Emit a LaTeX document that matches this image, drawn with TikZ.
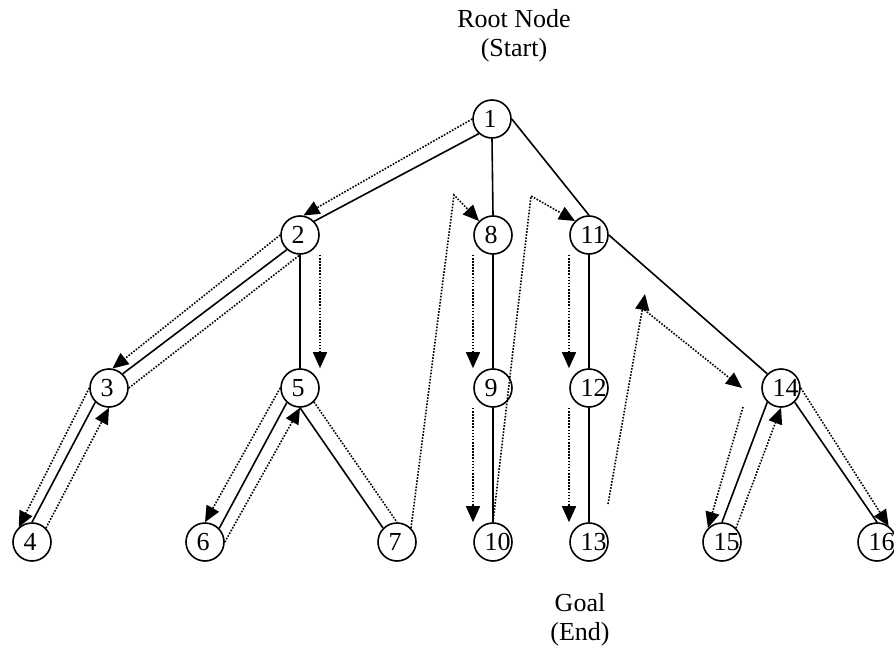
\documentclass[tikz,border=0pt]{standalone}
\usepackage{fontspec}
\setmainfont{Liberation Serif}
\usetikzlibrary{positioning}
\usetikzlibrary{calc}
\usetikzlibrary{arrows.meta}

\tikzset{
  state/.style={circle, draw, line width=1.6pt, minimum size=38pt, inner sep=0pt,
    text width=17pt, align=left, font=\fontsize{26}{29}\selectfont},
  note/.style={align=center, font=\fontsize{26}{29}\selectfont},
  branch/.style={line width=1.6pt},
  trace/.style={line width=1.6pt, dash pattern=on 1.6pt off 1.5pt},
  walk/.style={trace, -{Triangle[length=16pt,width=14pt]}},
}

\begin{document}
\begin{tikzpicture}[x=1pt, y=-1pt]
\useasboundingbox (0,0) rectangle (894,650);

\pgfmathsetmacro{\OFF}{20}

\node [note] (start) at (514,36) {Root Node\\(Start)};
\node [note] (goal) at (580,620) {Goal\\(End)};

% the tree, row by row
\node [state] (n1) at (492,119) {1};

\node [state] (n2) at (300,235) {2};
\node [state] (n8) at (493,235) {8};
\node [state] (n11) at (589,235) {11};

\node [state] (n3) at (109,388) {3};
\node [state] (n5) at (300,388) {5};
\node [state] (n9) at (493,388) {9};
\node [state] (n12) at (589,388) {12};
\node [state] (n14) at (781,388) {14};

\node [state] (n4) at (32,542) {4};
\node [state] (n6) at (205,542) {6};
\node [state] (n7) at (397,542) {7};
\node [state] (n10) at (493,542) {10};
\node [state] (n13) at (589,542) {13};
\node [state] (n15) at (722,542) {15};
\node [state] (n16) at (877,542) {16};

% branches
\draw [branch] (n1.228) -- (n2.44);
\draw [branch] (n1.south) -- (n8.north);
\draw [branch] (n1.east) -- (n11.north);
\draw [branch] (n2.228) -- (n3.46);
\draw [branch] (n2.south) -- (n5.north);
\draw [branch] (n3.226) -- (n4.north);
\draw [branch] (n5.228) -- (n6.44);
\draw [branch] (n5.south) -- (n7.135);
\draw [branch] (n8.south) -- (n9.north);
\draw [branch] (n9.south) -- (n10.north);
\draw [branch] (n11.south) -- (n12.north);
\draw [branch] (n12.south) -- (n13.north);
\draw [branch] (n11.east) -- (n14.134);
\draw [branch] (n14.226) -- (n15.north);
\draw [branch] (n14.314) -- (n16.north);

% order of the search
\draw [walk] (n1.west) -- (n2.80);
\draw [walk] (n2.west) -- (n3.80);
\draw [walk] (n3.west) -- (n4.132);
\draw [walk] (n4.45) -- (n3.south);
\draw [trace] (n3.east) -- (n2.south);
\draw [walk] ($(n2.south)+(\OFF,0)$) -- ($(n5.north)+(\OFF,0)$);
\draw [walk] (n5.west) -- (n6.north);
\draw [walk] (n6.east) -- (n5.south);
\draw [trace] (n5.south east) -- (n7.north);

\coordinate (k8) at (454,195);
\draw [walk] (n7.north east) -- (k8) -- (n8.north west);
\draw [walk] ($(n8.south)+(-\OFF,0)$) -- ($(n9.north)+(-\OFF,0)$);
\draw [walk] ($(n9.south)+(-\OFF,0)$) -- ($(n10.north)+(-\OFF,0)$);

\coordinate (k11) at (531,196);
\draw [walk] (n10.north) -- (k11) -- (n11.north west);
\draw [walk] ($(n11.south)+(-\OFF,0)$) -- ($(n12.north)+(-\OFF,0)$);
\draw [walk] ($(n12.south)+(-\OFF,0)$) -- ($(n13.north)+(-\OFF,0)$);

\coordinate (b13) at (608,504);
\coordinate (k14) at (645,294);
\coordinate (a14) at (742,388);
\coordinate (s14) at (743,407);
\draw [walk] (b13) -- (k14);
\draw [walk] ($(k14)+(-3,14)$) -- (a14);
\draw [walk] (s14) -- (n15.north west);
\draw [walk] (n15.north east) -- (n14.south);
\draw [walk] (n14.east) -- (n16.54);

\end{tikzpicture}
\end{document}
